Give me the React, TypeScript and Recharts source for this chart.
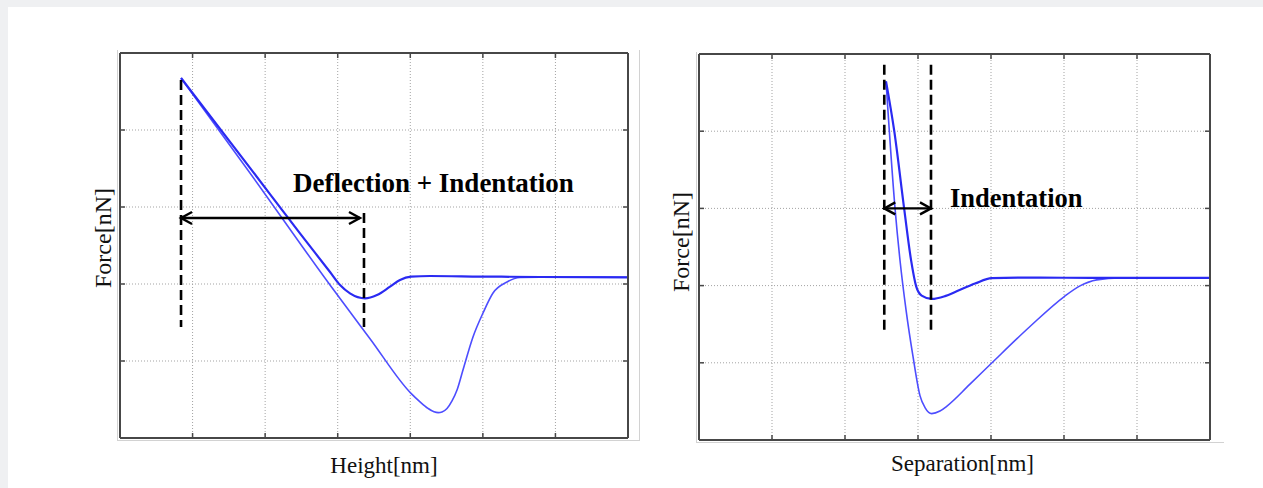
import { CartesianGrid, Line, LineChart, ReferenceLine, XAxis, YAxis } from "recharts";

const FRAME = "#474747";
const GRID = "#a3a3a3";
const APPROACH = "#2a2af2";
const RETRACT = "#4d4dff";
const SERIF = "'Liberation Serif', 'Times New Roman', serif";

const X_TICKS = [1, 2, 3, 4, 5, 6];
const Y_TICKS = [1, 2, 3, 4];

// Height[nm] panel (grid units: 7 across, 5 up)
const heightApproach = [
  { x: 0.841, y: 4.675 },
  { x: 1.791, y: 3.509 },
  { x: 2.48, y: 2.657 },
  { x: 2.894, y: 2.156 },
  { x: 3.032, y: 1.987 },
  { x: 3.169, y: 1.879 },
  { x: 3.376, y: 1.814 },
  { x: 3.541, y: 1.857 },
  { x: 3.721, y: 1.965 },
  { x: 3.858, y: 2.052 },
  { x: 4.01, y: 2.095 },
  { x: 4.272, y: 2.104 },
  { x: 4.961, y: 2.097 },
  { x: 5.788, y: 2.091 },
  { x: 7.0, y: 2.087 },
];

const heightRetract = [
  { x: 0.841, y: 4.675 },
  { x: 1.791, y: 3.442 },
  { x: 2.894, y: 1.987 },
  { x: 3.445, y: 1.29 },
  { x: 4.01, y: 0.58 },
  { x: 4.134, y: 0.47 },
  { x: 4.244, y: 0.385 },
  { x: 4.327, y: 0.34 },
  { x: 4.386, y: 0.329 },
  { x: 4.437, y: 0.338 },
  { x: 4.506, y: 0.383 },
  { x: 4.575, y: 0.481 },
  { x: 4.644, y: 0.623 },
  { x: 4.726, y: 0.883 },
  { x: 4.864, y: 1.312 },
  { x: 5.002, y: 1.623 },
  { x: 5.14, y: 1.883 },
  { x: 5.333, y: 2.026 },
  { x: 5.512, y: 2.084 },
  { x: 6.063, y: 2.091 },
  { x: 7.0, y: 2.087 },
];

const heightGuides = [
  { x: 0.841, from: 4.649, to: 1.442 },
  { x: 3.362, from: 2.922, to: 1.442 },
];
const heightArrow = { from: 0.841, to: 3.307, y: 2.857 };

// Separation[nm] panel
const sepApproach = [
  { x: 2.562, y: 4.645 },
  { x: 2.675, y: 4.0 },
  { x: 2.81, y: 3.0 },
  { x: 2.905, y: 2.33 },
  { x: 2.975, y: 1.99 },
  { x: 3.05, y: 1.87 },
  { x: 3.188, y: 1.827 },
  { x: 3.37, y: 1.864 },
  { x: 3.53, y: 1.926 },
  { x: 3.781, y: 2.026 },
  { x: 4.01, y: 2.097 },
  { x: 4.534, y: 2.104 },
  { x: 5.493, y: 2.1 },
  { x: 7.0, y: 2.1 },
];

const sepRetract = [
  { x: 2.562, y: 4.645 },
  { x: 2.685, y: 3.004 },
  { x: 2.753, y: 2.332 },
  { x: 2.836, y: 1.686 },
  { x: 2.932, y: 1.079 },
  { x: 3.027, y: 0.575 },
  { x: 3.096, y: 0.42 },
  { x: 3.188, y: 0.342 },
  { x: 3.301, y: 0.375 },
  { x: 3.393, y: 0.437 },
  { x: 3.712, y: 0.724 },
  { x: 4.01, y: 0.997 },
  { x: 4.534, y: 1.47 },
  { x: 5.004, y: 1.858 },
  { x: 5.219, y: 1.996 },
  { x: 5.448, y: 2.074 },
  { x: 5.767, y: 2.1 },
  { x: 7.0, y: 2.096 },
];

const sepGuides = [
  { x: 2.538, from: 4.86, to: 1.402 },
  { x: 3.178, from: 4.86, to: 1.402 },
];
const sepArrow = { from: 2.538, to: 3.178, y: 3.0 };

interface Pt {
  x: number;
  y: number;
}

interface PanelProps {
  left: number;
  top: number;
  width: number;
  height: number;
  approach: Pt[];
  retract: Pt[];
  guides: { x: number; from: number; to: number }[];
  arrow: { from: number; to: number; y: number };
}

const M = 2;
const blank = () => "";

function Panel({ left, top, width, height, approach, retract, guides, arrow }: PanelProps) {
  // arrowhead size in px, turned into grid units
  const dx = (11 * 7) / (width - 2 * M);
  const dy = (6 * 5) / (height - 2 * M);
  const headL = [
    { x: arrow.from + dx, y: arrow.y + dy },
    { x: arrow.from, y: arrow.y },
    { x: arrow.from + dx, y: arrow.y - dy },
  ];
  const headR = [
    { x: arrow.to - dx, y: arrow.y + dy },
    { x: arrow.to, y: arrow.y },
    { x: arrow.to - dx, y: arrow.y - dy },
  ];
  const shaft = [
    { x: arrow.from, y: arrow.y },
    { x: arrow.to, y: arrow.y },
  ];
  const axisLine = { stroke: FRAME, strokeWidth: 2 };
  const tickLine = { stroke: FRAME, strokeWidth: 1.5 };
  return (
    <div style={{ position: "absolute", left, top }}>
      <LineChart width={width} height={height} margin={{ top: M, right: M, bottom: M, left: M }}>
        <CartesianGrid
          stroke={GRID}
          strokeDasharray="1 2"
          verticalValues={X_TICKS}
          horizontalValues={Y_TICKS}
        />
        <XAxis
          type="number"
          dataKey="x"
          domain={[0, 7]}
          ticks={X_TICKS}
          mirror
          tickFormatter={blank}
          tickSize={5}
          axisLine={axisLine}
          tickLine={tickLine}
          allowDataOverflow
        />
        <XAxis
          xAxisId="top"
          orientation="top"
          type="number"
          dataKey="x"
          domain={[0, 7]}
          ticks={X_TICKS}
          mirror
          tickFormatter={blank}
          tickSize={5}
          axisLine={axisLine}
          tickLine={tickLine}
          allowDataOverflow
        />
        <YAxis
          type="number"
          domain={[0, 5]}
          ticks={Y_TICKS}
          mirror
          tickFormatter={blank}
          tickSize={5}
          axisLine={axisLine}
          tickLine={tickLine}
          allowDataOverflow
        />
        <YAxis
          yAxisId="right"
          orientation="right"
          type="number"
          domain={[0, 5]}
          ticks={Y_TICKS}
          mirror
          tickFormatter={blank}
          tickSize={5}
          axisLine={axisLine}
          tickLine={tickLine}
          allowDataOverflow
        />
        <Line
          data={retract}
          dataKey="y"
          type="monotone"
          stroke={RETRACT}
          strokeWidth={1.6}
          dot={false}
          isAnimationActive={false}
        />
        <Line
          data={approach}
          dataKey="y"
          type="monotone"
          stroke={APPROACH}
          strokeWidth={2.2}
          dot={false}
          isAnimationActive={false}
        />
        {guides.map((g, i) => (
          <ReferenceLine
            key={i}
            segment={[
              { x: g.x, y: g.from },
              { x: g.x, y: g.to },
            ]}
            stroke="#000"
            strokeWidth={2.6}
            strokeDasharray="10 5"
            ifOverflow="visible"
          />
        ))}
        {[shaft, headL, headR].map((d, i) => (
          <Line
            key={`arrow-${i}`}
            data={d}
            dataKey="y"
            type="linear"
            stroke="#000"
            strokeWidth={2.4}
            dot={false}
            isAnimationActive={false}
          />
        ))}
      </LineChart>
    </div>
  );
}

export default function App() {
  return (
    <div
      style={{
        position: "absolute",
        left: 0,
        top: 0,
        width: 1263,
        height: 488,
        background: "#eff0f2",
        overflow: "hidden",
      }}
    >
      <div style={{ position: "absolute", left: 8, top: 7, right: 0, bottom: 0, background: "#fff" }} />
      <div
        style={{
          position: "absolute",
          left: 117,
          top: 50,
          width: 521,
          height: 390,
          borderLeft: "1px solid #d2d2d2",
          borderRight: "1px solid #d2d2d2",
          borderBottom: "1px solid #d2d2d2",
        }}
      />
      <div
        style={{
          position: "absolute",
          left: 696,
          top: 52,
          width: 527,
          height: 390,
          borderLeft: "1px solid #d2d2d2",
          borderBottom: "1px solid #d2d2d2",
        }}
      />
      <Panel
        left={118}
        top={51}
        width={512}
        height={389}
        approach={heightApproach}
        retract={heightRetract}
        guides={heightGuides}
        arrow={heightArrow}
      />
      <Panel
        left={697}
        top={52}
        width={515}
        height={390}
        approach={sepApproach}
        retract={sepRetract}
        guides={sepGuides}
        arrow={sepArrow}
      />
      <svg
        width={1263}
        height={488}
        style={{ position: "absolute", left: 0, top: 0, pointerEvents: "none" }}
        fontFamily={SERIF}
        fill="#111"
      >
        <text x={111} y={238} fontSize={24} textAnchor="middle" transform="rotate(-90 111 238)">
          Force[nN]
        </text>
        <text x={689} y={242} fontSize={24} textAnchor="middle" transform="rotate(-90 689 242)">
          Force[nN]
        </text>
        <text x={384} y={473} fontSize={23} textAnchor="middle">
          Height[nm]
        </text>
        <text x={962.5} y={471} fontSize={23} textAnchor="middle">
          Separation[nm]
        </text>
        <text x={293} y={192} fontSize={27} fontWeight="bold" fill="#000">
          Deflection + Indentation
        </text>
        <text x={950} y={206.5} fontSize={26.5} fontWeight="bold" fill="#000">
          Indentation
        </text>
      </svg>
    </div>
  );
}
